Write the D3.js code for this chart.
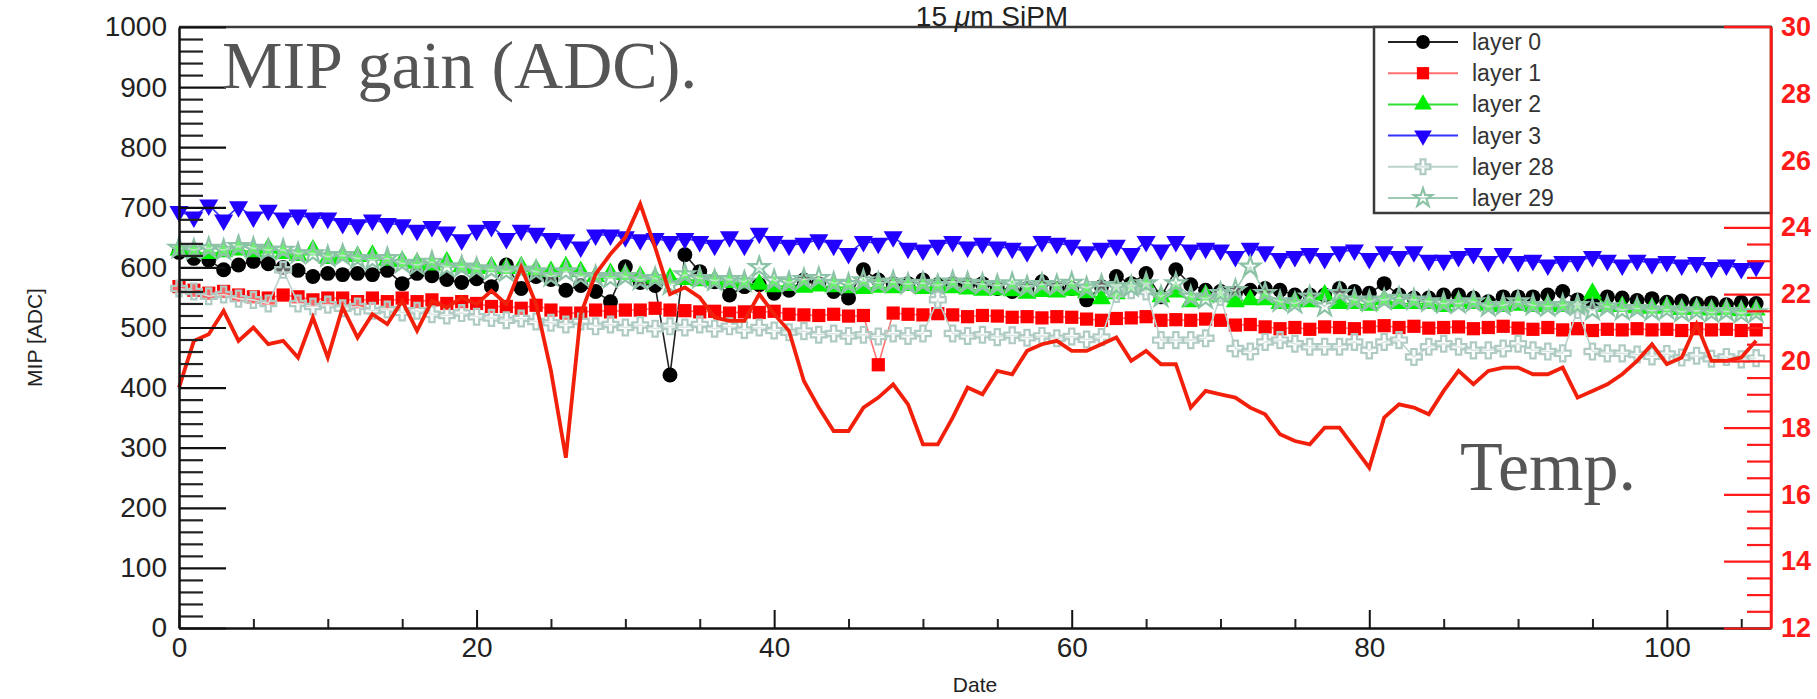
<!DOCTYPE html>
<html>
<head>
<meta charset="utf-8">
<script src="https://cdn.jsdelivr.net/npm/d3@7"></script>
<style>
  body { margin: 0; background: #fff; }
  svg { display: block; }
</style>
</head>
<body>
<div id="chart"></div>
<script>
// day index runs 0..106
const layerNames = ["layer 0", "layer 1", "layer 2", "layer 3", "layer 28", "layer 29"];

const layer0 = [625,615,612,596,604,610,606,600,595,585, 590,588,590,588,595,573,590,586,580,575,
  581,568,604,565,585,580,562,570,560,543, 601,575,570,421,621,593,576,554,568,571,
  557,562,579,573,560,549,596,579,573,573, 579,571,573,571,573,565,560,565,576,565,
  565,546,568,585,573,590,551,596,571,562, 560,557,562,565,562,554,554,554,565,560,
  557,573,554,549,549,554,554,549,543,551, 551,551,554,560,546,543,551,549,545,548,
  542,544,540,541,538,542,540];

const layer1 = [568,562,557,560,554,551,549,554,551,546, 549,549,543,549,543,549,543,546,540,543,
  540,535,535,532,537,529,524,524,529,526, 529,529,532,529,528,526,527,524,526,525,
  527,522,521,520,522,519,520,438,524,522, 521,523,521,518,520,519,517,518,516,518,
  517,514,512,515,516,518,512,513,512,514, 512,504,505,501,498,500,497,501,500,498,
  501,503,500,502,499,500,501,498,500,502, 499,497,500,496,498,495,497,496,498,496,
  497,495,498,496,497,495,496];

const layer2 = [629,626,623,626,629,626,632,623,620,629, 615,620,618,620,612,610,607,604,609,601,
  598,601,598,601,596,593,601,593,585,590, 588,585,582,582,580,578,579,575,574,572,
  568,570,567,569,568,566,565,567,566,570, 565,570,566,564,562,563,561,557,560,559,
  562,558,548,556,568,571,551,559,543,554, 551,543,546,546,540,543,543,554,540,540,
  537,546,540,540,540,535,543,540,537,535, 537,535,537,535,535,557,535,535,533,532,
  534,530,531,529,530,528,529];

const layer3 = [693,684,704,679,701,684,695,682,687,682, 682,673,671,679,673,671,662,668,659,646,
  662,668,648,662,657,648,646,634,654,654, 651,646,648,643,648,643,637,651,637,657,
  643,637,640,646,637,623,643,640,651,632, 629,637,643,634,640,634,632,626,643,640,
  637,626,632,637,623,643,629,643,629,632, 629,618,632,626,615,618,623,615,626,629,
  615,626,618,626,612,612,618,623,610,623, 610,612,604,610,610,618,612,604,612,606,
  610,604,608,600,604,598,602];

const layer28 = [565,560,552,555,548,546,540,596,540,535, 538,532,535,528,530,525,528,522,520,524,
  518,516,512,515,510,508,505,510,502,505, 500,504,498,502,500,505,498,502,496,500,
  495,492,494,488,490,486,488,485,490,486, 490,546,490,486,488,484,487,483,486,482,
  485,480,484,556,562,560,479,479,479,482, 551,465,460,476,479,473,468,468,468,476,
  462,476,479,451,468,473,468,462,462,465, 473,462,460,457,529,460,457,457,455,452,
  456,450,453,448,451,447,449];

const layer29 = [632,629,632,629,635,632,629,629,623,623, 618,620,615,612,615,607,604,609,601,601,
  598,596,593,596,593,585,593,585,585,582, 585,579,582,571,588,582,578,580,576,600,
  578,575,580,582,574,572,578,574,576,572, 574,570,576,574,572,570,573,568,572,570,
  574,566,570,568,568,573,551,573,551,548, 557,562,601,557,543,540,551,535,557,546,
  543,546,549,546,543,540,540,543,535,537, 543,537,535,537,537,529,535,529,532,528,
  530,526,528,525,527,524,525];

const temperature = [19.2,20.6,20.8,21.5,20.6,21.0,20.5,20.6,20.1,21.3, 20.1,21.6,20.7,21.4,21.1,21.8,20.9,21.8,21.6,21.9,
  21.7,22.1,21.7,22.8,21.7,19.7,17.1,21.4,22.6,23.2, 23.7,24.7,23.4,22.0,22.2,21.9,21.3,21.2,21.2,22.0,
  21.4,20.9,19.4,18.6,17.9,17.9,18.6,18.9,19.3,18.7, 17.5,17.5,18.3,19.2,19.0,19.7,19.6,20.3,20.5,20.6,
  20.3,20.3,20.5,20.7,20.0,20.3,19.9,19.9,18.6,19.1, 19.0,18.9,18.6,18.4,17.8,17.6,17.5,18.0,18.0,17.4,
  16.8,18.3,18.7,18.6,18.4,19.1,19.7,19.3,19.7,19.8, 19.8,19.6,19.6,19.8,18.9,19.1,19.3,19.6,20.0,20.5,
  19.9,20.1,21.1,20.0,20.0,20.1,20.6];

const leftTicks = [0,100,200,300,400,500,600,700,800,900,1000];
const bottomTicks = [0,20,40,60,80,100];
const rightTicks = [12,14,16,18,20,22,24,26,28,30];

// styles
const series = [
  {data: layer0,  color: "#000000", line: "#222222", shape: "circle"},
  {data: layer1,  color: "#ff0000", line: "#ff7070", shape: "square"},
  {data: layer2,  color: "#00ee00", line: "#33dd33", shape: "up"},
  {data: layer3,  color: "#2200ff", line: "#3333ff", shape: "down"},
  {data: layer28, color: "#b0cbc4", line: "#bcd3cd", shape: "cross"},
  {data: layer29, color: "#8cc3a6", line: "#9ccbb2", shape: "star"}
];

const W = 1817, H = 699;
const L = 179, R = 1771, T = 27, B = 628;
const sans = "'Liberation Sans', Arial, sans-serif";
const serif = "'Liberation Serif', 'Times New Roman', serif";

let svg = d3.select("#chart").append("svg")
  .attr("width", W)
  .attr("height", H)
  .style("font-family", sans);

let x = d3.scaleLinear().domain([0, 107]).range([L, R]);
let y = d3.scaleLinear().domain([0, 1000]).range([B, T]);
let yT = d3.scaleLinear().domain([12, 30]).range([B, T]);

function markerPath(shape, size) {
  let sym = d3.symbol();
  if (shape == "circle") return sym.type(d3.symbolCircle).size(size)();
  if (shape == "square") return sym.type(d3.symbolSquare).size(size)();
  if (shape == "up" || shape == "down") return sym.type(d3.symbolTriangle).size(size * 0.9)();
  if (shape == "cross") return sym.type(d3.symbolCross).size(size * 0.8)();
  return sym.type(d3.symbolStar).size(size * 0.7)();
}

function drawMarker(g, s, cx, cy, size) {
  let p = g.append("path")
    .attr("d", markerPath(s.shape, size))
    .attr("transform", "translate(" + cx + "," + cy + ")" + (s.shape == "down" ? " rotate(180)" : ""));
  if (s.shape == "cross" || s.shape == "star") {
    p.attr("fill", "#fff").attr("fill-opacity", 0.4).attr("stroke", s.color).attr("stroke-width", 2.2);
  } else {
    p.attr("fill", s.color);
  }
}

// frame top line
svg.append("line")
  .attr("x1", L).attr("x2", R).attr("y1", T).attr("y2", T)
  .attr("stroke", "#3a3a3a").attr("stroke-width", 2.5);

// series
let line = d3.line().x((d, i) => x(i)).y(d => y(d));
series.forEach(s => {
  let g = svg.append("g");
  g.append("path")
    .datum(s.data)
    .attr("d", line)
    .attr("fill", "none")
    .attr("stroke", s.line)
    .attr("stroke-width", 1.6);
  s.data.forEach((v, i) => drawMarker(g, s, x(i), y(v), 175));
});

// temperature line
let tline = d3.line().x((d, i) => x(i)).y(d => yT(d));
svg.append("path")
  .datum(temperature)
  .attr("d", tline)
  .attr("fill", "none")
  .attr("stroke", "#f2200a")
  .attr("stroke-width", 3.8)
  .attr("stroke-linejoin", "miter");

// left axis
let minorLeft = d3.range(0, 1001, 20).filter(v => v % 100 != 0);
svg.append("g").attr("transform", "translate(" + L + ",0)")
  .call(d3.axisLeft(y).tickValues(minorLeft).tickSize(-24).tickFormat(""))
  .call(g => g.select(".domain").remove())
  .selectAll("line").attr("stroke", "#222").attr("stroke-width", 2.2);
let gl = svg.append("g").attr("transform", "translate(" + L + ",0)")
  .call(d3.axisLeft(y).tickValues(leftTicks).tickSize(-47).tickSizeOuter(0).tickPadding(12).tickFormat(d3.format("d")));
gl.select(".domain").attr("stroke", "#111").attr("stroke-width", 2.5);
gl.selectAll("line").attr("stroke", "#111").attr("stroke-width", 2.2);
gl.selectAll("text").attr("font-size", 28).attr("fill", "#222").attr("font-family", sans);

// bottom axis
let minorBottom = d3.range(0, 107, 5).filter(v => v % 20 != 0);
svg.append("g").attr("transform", "translate(0," + B + ")")
  .call(d3.axisBottom(x).tickValues(minorBottom).tickSize(-9).tickFormat(""))
  .call(g => g.select(".domain").remove())
  .selectAll("line").attr("stroke", "#222").attr("stroke-width", 2);
let gb = svg.append("g").attr("transform", "translate(0," + B + ")")
  .call(d3.axisBottom(x).tickValues(bottomTicks).tickSize(-18).tickSizeOuter(0).tickPadding(9));
gb.select(".domain").attr("stroke", "#111").attr("stroke-width", 2.5);
gb.selectAll("line").attr("stroke", "#111").attr("stroke-width", 2);
gb.selectAll("text").attr("font-size", 28).attr("fill", "#222").attr("font-family", sans);

// right (temperature) axis
let minorRight = d3.range(12, 30.01, 0.5).filter(v => v % 2 != 0);
svg.append("g").attr("transform", "translate(" + R + ",0)")
  .call(d3.axisRight(yT).tickValues(minorRight).tickSize(-24).tickFormat(""))
  .call(g => g.select(".domain").remove())
  .selectAll("line").attr("stroke", "#ff1a1a").attr("stroke-width", 2.2);
let gr = svg.append("g").attr("transform", "translate(" + R + ",0)")
  .call(d3.axisRight(yT).tickValues(rightTicks).tickSize(-47).tickSizeOuter(0).tickPadding(10));
gr.select(".domain").attr("stroke", "#ff1a1a").attr("stroke-width", 2.5);
gr.selectAll("line").attr("stroke", "#ff1a1a").attr("stroke-width", 2.2);
gr.selectAll("text").attr("font-size", 27).attr("font-weight", "bold").attr("fill", "#ff1a1a")
  .attr("font-family", sans);

// axis titles
svg.append("text")
  .attr("transform", "translate(42," + ((T + B) / 2 + 10) + ") rotate(-90)")
  .attr("text-anchor", "middle")
  .attr("font-size", 21)
  .attr("fill", "#222")
  .text("MIP [ADC]");
svg.append("text")
  .attr("x", (L + R) / 2)
  .attr("y", 692)
  .attr("text-anchor", "middle")
  .attr("font-size", 21)
  .attr("fill", "#222")
  .text("Date");

// title, kept just inside the top edge
let title = svg.append("text")
  .attr("x", 992)
  .attr("y", 26)
  .attr("text-anchor", "middle")
  .attr("font-size", 28)
  .attr("fill", "#222");
title.append("tspan").text("15 ");
title.append("tspan").attr("font-style", "italic").text("\u03bc");
title.append("tspan").text("m SiPM");

// legend
let lg = svg.append("g");
lg.append("rect")
  .attr("x", 1374).attr("y", T).attr("width", R - 1374).attr("height", 213 - T)
  .attr("fill", "#fff").attr("stroke", "#3a3a3a").attr("stroke-width", 2.5);
let rowY = d3.scaleLinear().domain([0, 5]).range([42, 198]);
series.forEach((s, i) => {
  let cy = rowY(i);
  lg.append("line")
    .attr("x1", 1388).attr("x2", 1458).attr("y1", cy).attr("y2", cy)
    .attr("stroke", s.line).attr("stroke-width", 2);
  drawMarker(lg, s, 1423, cy, 150);
  lg.append("text")
    .attr("x", 1472).attr("y", cy + 8)
    .attr("font-size", 23)
    .attr("fill", "#333")
    .text(layerNames[i]);
});
// red axis drawn again over the legend edge
svg.append("line")
  .attr("x1", R).attr("x2", R).attr("y1", T).attr("y2", B)
  .attr("stroke", "#ff1a1a").attr("stroke-width", 2.5);
svg.append("line")
  .attr("x1", R - 47).attr("x2", R).attr("y1", T).attr("y2", T)
  .attr("stroke", "#ff1a1a").attr("stroke-width", 2.5);

// annotation text
svg.append("text")
  .attr("x", 222).attr("y", 88)
  .attr("font-family", serif)
  .attr("font-size", 68)
  .attr("fill", "#555")
  .text("MIP gain (ADC).");
svg.append("text")
  .attr("x", 1636).attr("y", 490)
  .attr("text-anchor", "end")
  .attr("font-family", serif)
  .attr("font-size", 70)
  .attr("fill", "#555")
  .text("Temp.");
</script>
</body>
</html>
